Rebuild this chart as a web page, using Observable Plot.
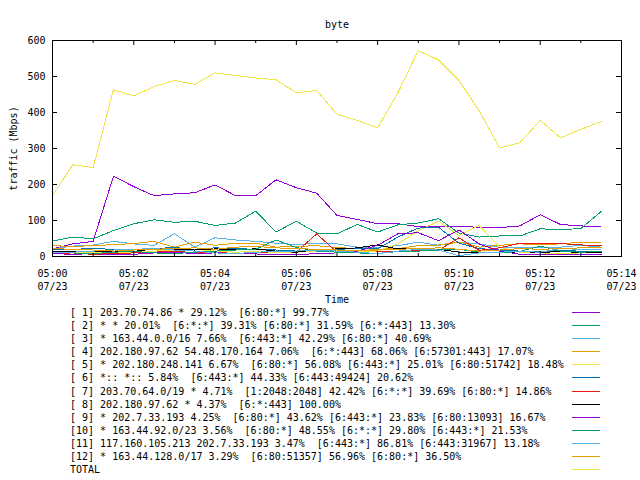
<!DOCTYPE html>
<html><head><meta charset="utf-8">
<script src="https://cdn.jsdelivr.net/npm/d3@7"></script>
<script src="https://cdn.jsdelivr.net/npm/@observablehq/plot@0.6"></script>
<style>
html,body{margin:0;padding:0;background:#fff;}
#wrap{position:relative;width:640px;height:480px;overflow:hidden;font-family:"DejaVu Sans Mono",monospace;font-size:10px;color:#000;}
#legend{position:absolute;left:0;top:305.7px;width:640px;}
.row{position:relative;height:13.15px;line-height:13.15px;}
.row span{position:absolute;left:70px;top:0;white-space:pre;}
.row i{position:absolute;left:572px;width:28px;top:6px;height:0;border-top:1px solid;}
</style></head><body><div id="wrap"></div>
<script>
// ---- data ----
const title = "byte";
const yLabel = "traffic (Mbps)";
const xLabel = "Time";
const day = "2000-07-23";
const dateLabel = "07/23";
const times = ["05:00:00","05:00:30","05:01:00","05:01:30","05:02:00","05:02:30","05:03:00","05:03:30",
  "05:04:00","05:04:30","05:05:00","05:05:30","05:06:00","05:06:30","05:07:00","05:07:30",
  "05:08:00","05:08:30","05:09:00","05:09:30","05:10:00","05:10:30","05:11:00","05:11:30",
  "05:12:00","05:12:30","05:13:00","05:13:30"];
const majorTicks = ["05:00","05:02","05:04","05:06","05:08","05:10","05:12","05:14"];
const minorTicks = ["05:01","05:03","05:05","05:07","05:09","05:11","05:13"];
const yTicks = [0,100,200,300,400,500,600];

const seriesNames = [
  "[ 1] 203.70.74.86 * 29.12%  [6:80:*] 99.77%",
  "[ 2] * * 20.01%  [6:*:*] 39.31% [6:80:*] 31.59% [6:*:443] 13.30%",
  "[ 3] * 163.44.0.0/16 7.66%  [6:443:*] 42.29% [6:80:*] 40.69%",
  "[ 4] 202.180.97.62 54.48.170.164 7.06%  [6:*:443] 68.06% [6:57301:443] 17.07%",
  "[ 5] * 202.180.248.141 6.67%  [6:80:*] 56.08% [6:443:*] 25.01% [6:80:51742] 18.48%",
  "[ 6] *:: *:: 5.84%  [6:443:*] 44.33% [6:443:49424] 20.62%",
  "[ 7] 203.70.64.0/19 * 4.71%  [1:2048:2048] 42.42% [6:*:*] 39.69% [6:80:*] 14.86%",
  "[ 8] 202.180.97.62 * 4.37%  [6:*:443] 100.00%",
  "[ 9] * 202.7.33.193 4.25%  [6:80:*] 43.62% [6:443:*] 23.83% [6:80:13093] 16.67%",
  "[10] * 163.44.92.0/23 3.56%  [6:80:*] 48.55% [6:*:*] 29.80% [6:443:*] 21.53%",
  "[11] 117.160.105.213 202.7.33.193 3.47%  [6:443:*] 86.81% [6:443:31967] 13.18%",
  "[12] * 163.44.128.0/17 3.29%  [6:80:51357] 56.96% [6:80:*] 36.50%",
  "TOTAL"
];
const seriesColors = ["#9400d3","#009e73","#56b4e9","#e69f00","#f0e442","#0072b2","#e51e10","#000000",
  "#9400d3","#009e73","#56b4e9","#e69f00","#f0e442"];

const s1  = [21,35,42,223,194,169,174,177,199,169,169,213,191,176,114,103,91,91,83,82,84,81,80,85,116,89,85,82];
const s2  = [43,54,49,72,91,102,95,98,86,93,126,68,98,65,63,89,68,88,93,105,65,54,57,57,77,74,78,125];
const s3  = [21,29,32,42,35,31,63,26,52,46,42,37,33,37,35,26,26,30,40,31,40,35,26,26,26,26,31,26];
const s4  = [30,28,30,33,36,42,26,40,31,37,37,26,28,30,25,22,20,22,30,32,40,26,31,35,33,35,40,40];
const s5  = [15,12,10,10,12,15,18,20,15,12,14,10,12,15,18,14,15,35,72,98,58,86,26,12,10,8,10,12];
const s6  = [18,20,22,20,18,22,25,20,24,22,20,18,15,18,20,22,21,54,79,81,37,22,18,15,14,16,15,14];
const s7  = [8,10,6,8,10,12,15,10,12,8,10,14,12,63,12,18,15,14,16,17,52,17,24,37,37,36,32,31];
const s8  = [15,14,15,15,14,21,19,18,21,20,21,15,12,19,21,24,32,21,22,20,12,12,11,13,12,13,12,12];
const s9  = [8,6,8,5,6,10,12,8,10,9,7,6,5,8,10,15,31,63,66,44,74,35,15,6,5,5,5,5];
const s10 = [12,10,8,12,14,10,8,12,15,18,20,46,25,15,12,10,8,14,15,18,20,12,10,14,29,15,12,14];
const s11 = [10,12,15,18,20,22,18,15,10,8,12,14,15,18,15,12,8,15,20,18,2,10,12,14,12,22,20,18];
const s12 = [22,20,18,15,18,20,22,24,20,26,28,24,22,20,18,16,18,20,22,24,20,15,18,22,20,22,24,25];
const total = [169,255,247,463,446,472,489,478,510,503,496,491,455,461,395,378,357,455,572,546,489,405,302,316,378,330,353,375];

// ---- build ----
const T = s => new Date(`${day}T${s}Z`);
const tTimes = times.map(T);
const series = [s1,s2,s3,s4,s5,s6,s7,s8,s9,s10,s11,s12,total];
const fmtLabel = new Map(majorTicks.map(m => [+T(m + ":00"), m + "\n" + dateLabel]));

const svg = Plot.plot({
  width: 640, height: 306,
  marginLeft: 52, marginRight: 19, marginTop: 40, marginBottom: 50,
  style: {fontFamily: "DejaVu Sans Mono, monospace", fontSize: "10px", background: "#fff", color: "#000", overflow: "visible"},
  x: {type: "utc", domain: [T("05:00:00"), T("05:14:00")]},
  y: {domain: [0, 600]},
  marks: [
    ...series.map((vals, k) => Plot.lineY(vals, {x: (d, i) => tTimes[i], y: d => d, stroke: seriesColors[k], strokeWidth: 1, shapeRendering: "crispEdges"})),
    Plot.frame({stroke: "#000"}),
    Plot.tickX(majorTicks.map(m => T(m + ":00")), {x: d => d, insetTop: 211, stroke: "#000"}),
    Plot.tickX(majorTicks.map(m => T(m + ":00")), {x: d => d, insetBottom: 211, stroke: "#000"}),
    Plot.tickX(minorTicks.map(m => T(m + ":00")), {x: d => d, insetTop: 213, stroke: "#000"}),
    Plot.tickX(minorTicks.map(m => T(m + ":00")), {x: d => d, insetBottom: 213, stroke: "#000"}),
    Plot.tickY(yTicks, {y: d => d, insetRight: 564, stroke: "#000"}),
    Plot.tickY(yTicks, {y: d => d, insetLeft: 564, stroke: "#000"}),
    Plot.axisX({ticks: majorTicks.map(m => T(m + ":00")), tickSize: 0, tickPadding: 11, lineHeight: 1.3, tickFormat: d => fmtLabel.get(+d), label: null, fill: "#000"}),
    Plot.axisY({ticks: yTicks, tickSize: 0, tickPadding: 7, label: null, fill: "#000"}),
    Plot.text([title], {frameAnchor: "top", dy: -20, text: d => d, fill: "#000"}),
    Plot.text([xLabel], {frameAnchor: "bottom", dy: 46, text: d => d, fill: "#000"}),
    Plot.text([yLabel], {frameAnchor: "left", dx: -39, rotate: -90, textAnchor: "middle", text: d => d, fill: "#000"})
  ]
});

const wrap = document.getElementById("wrap");
wrap.appendChild(svg);
const legend = d3.select(wrap).append("div").attr("id", "legend");
const rowsSel = legend.selectAll("div").data(seriesNames).join("div").attr("class", "row");
rowsSel.append("span").text(d => d);
rowsSel.append("i").style("border-top-color", (d, i) => seriesColors[i]);
</script>
</body></html>
